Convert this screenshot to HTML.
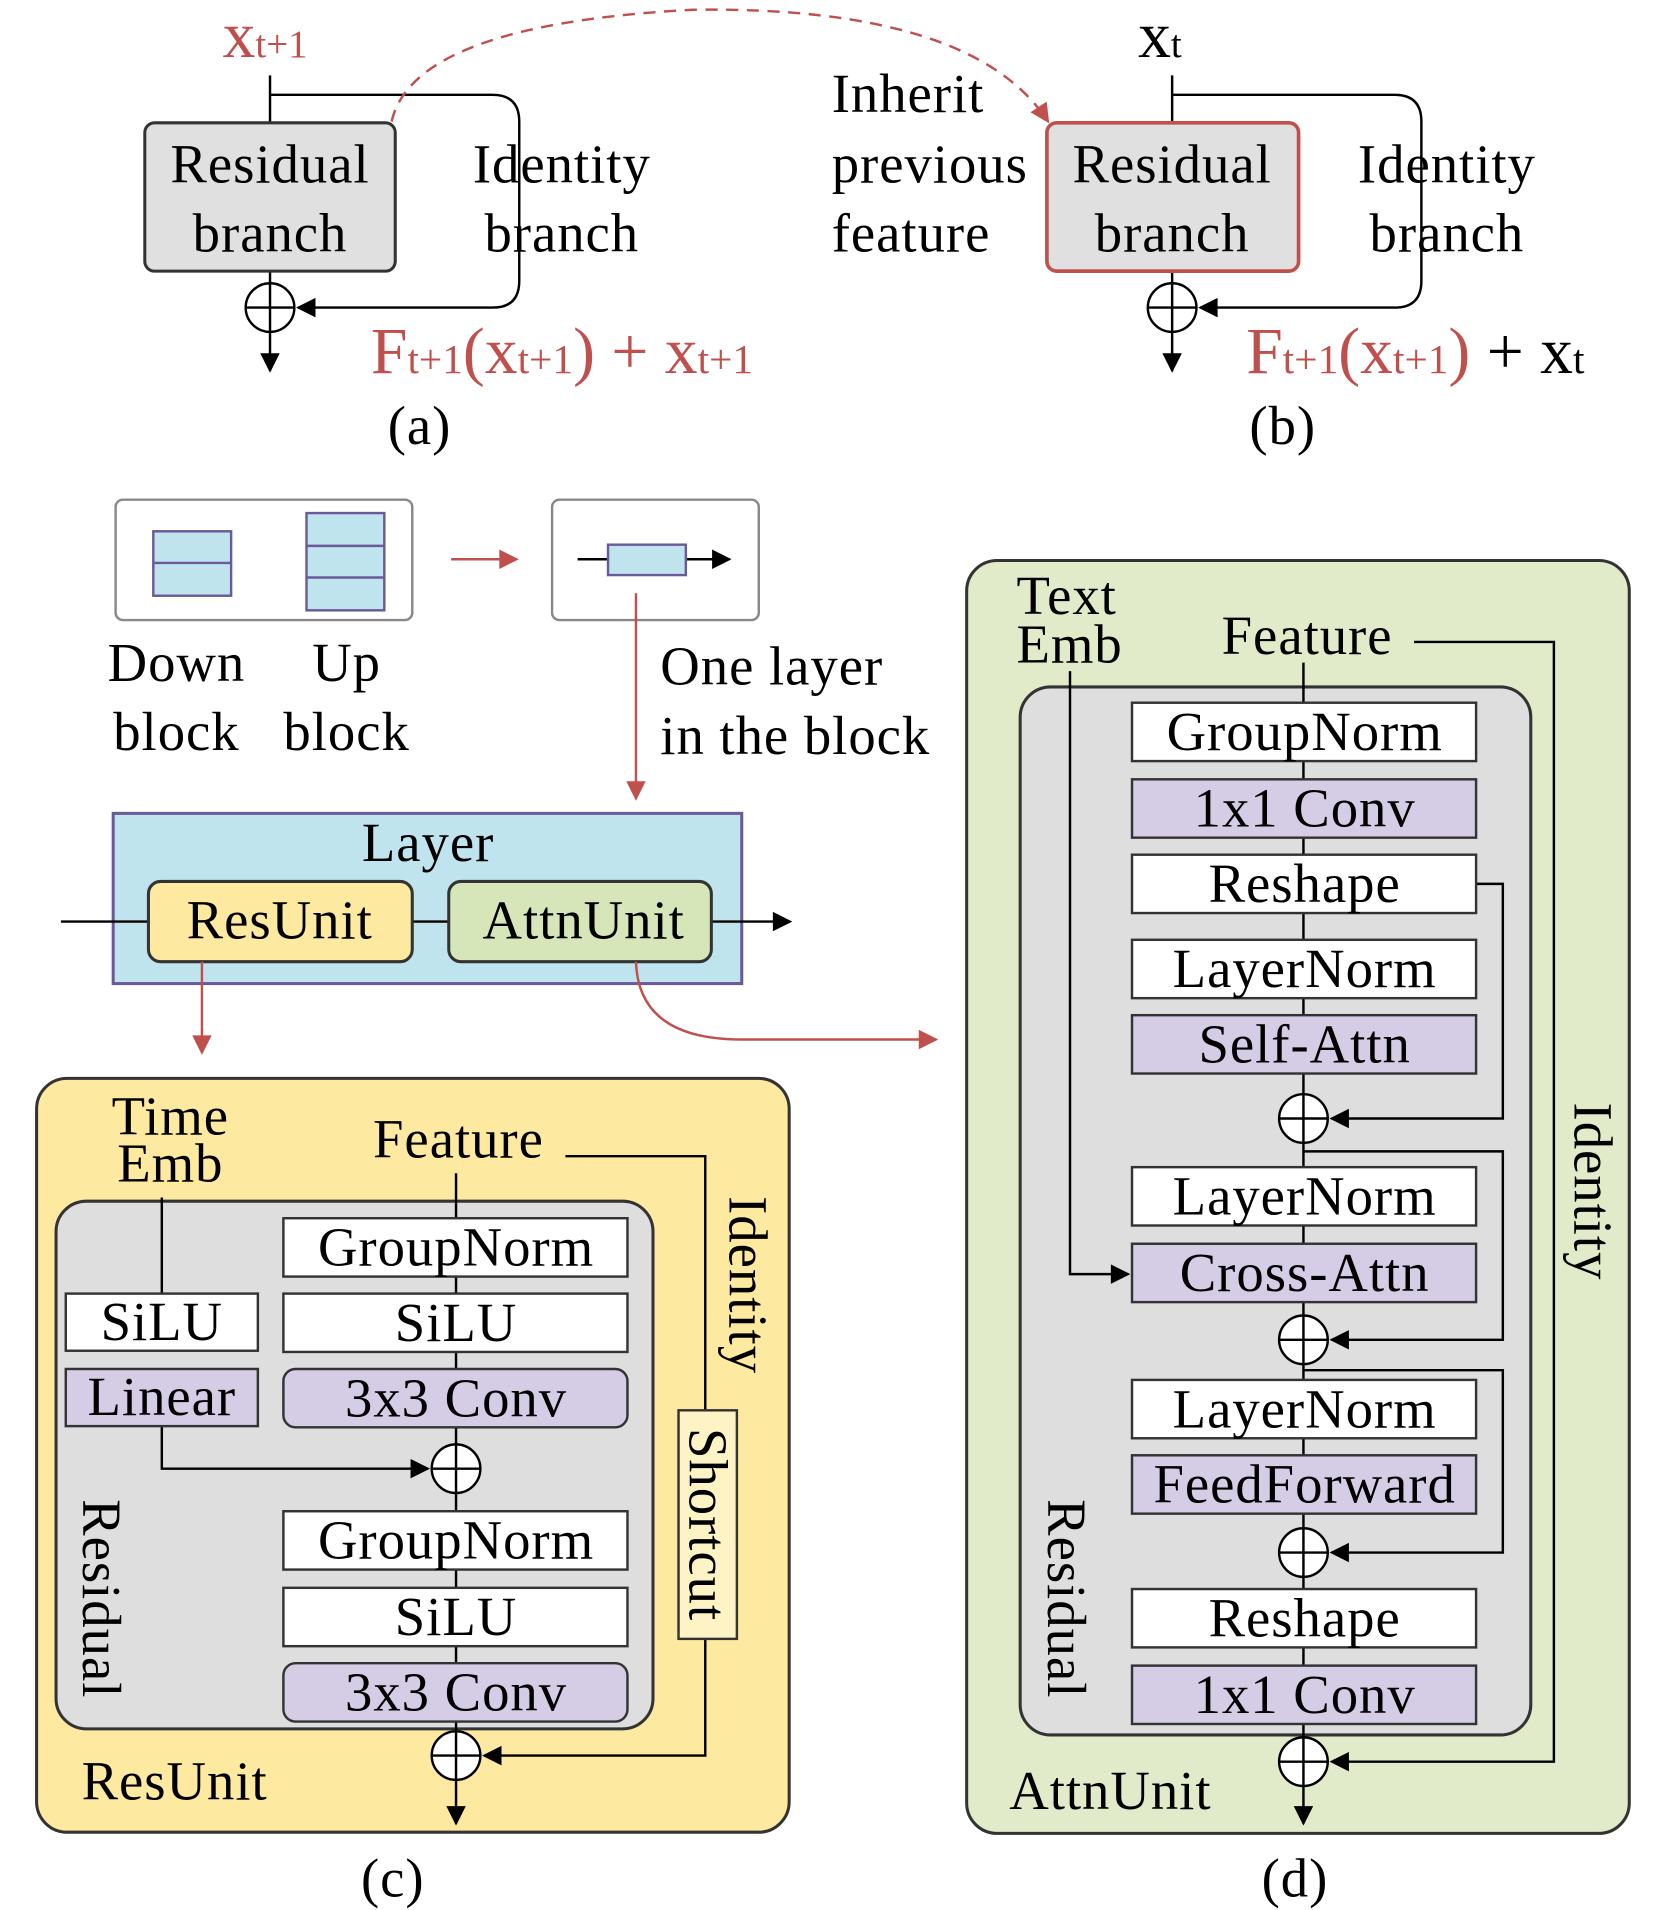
<!DOCTYPE html>
<html><head><meta charset="utf-8"><style>html,body{margin:0;padding:0;background:#fff}svg{display:block}</style></head><body>
<svg width="1661" height="1910" viewBox="0 0 1366 1571" xmlns="http://www.w3.org/2000/svg" font-family="Liberation Serif, serif" font-size="45" letter-spacing="0.8">
<defs>
<marker id="ak" viewBox="0 0 10 10" refX="9" refY="5" markerWidth="24" markerHeight="16" orient="auto" markerUnits="userSpaceOnUse"><path d="M0,0L10,5L0,10z" fill="#000"/></marker>
<marker id="ar" viewBox="0 0 10 10" refX="9" refY="5" markerWidth="24" markerHeight="16" orient="auto" markerUnits="userSpaceOnUse"><path d="M0,0L10,5L0,10z" fill="#c0504d"/></marker>
</defs>
<g stroke="#000" stroke-width="2" fill="none">
<path d="M222,62V101M222,78H405Q427,78 427,100V231Q427,253 405,253H245" marker-end="url(#ak)"/>
<path d="M222,223V233M222,273V305" marker-end="url(#ak)"/>
<circle cx="222" cy="253" r="20"/><path d="M202,253H242M222,233V273"/>
<path d="M964,62V101M964,78H1147Q1169,78 1169,100V231Q1169,253 1147,253H987" marker-end="url(#ak)"/>
<path d="M964,223V233M964,273V305" marker-end="url(#ak)"/>
<circle cx="964" cy="253" r="20"/><path d="M944,253H984M964,233V273"/>
</g>
<path d="M322,100Q340,20 570,8Q800,5 862,100" stroke="#c0504d" stroke-width="2" fill="none" stroke-dasharray="10,7" marker-end="url(#ar)"/>
<rect x="119" y="101" width="206" height="122" rx="8" fill="#e0e0e0" stroke="#333" stroke-width="2.5"/>
<rect x="861" y="101" width="207" height="122" rx="8" fill="#e0e0e0" stroke="#c0504d" stroke-width="3"/>
<g text-anchor="middle">
<text x="222" y="150">Residual</text><text x="222" y="207">branch</text>
<text x="964" y="150">Residual</text><text x="964" y="207">branch</text>
<text x="462" y="150">Identity</text><text x="462" y="207">branch</text>
<text x="1190" y="150">Identity</text><text x="1190" y="207">branch</text>
<text x="345" y="365">(a)</text><text x="1055" y="365">(b)</text>
</g>
<text x="684" y="92">Inherit</text><text x="684" y="150">previous</text><text x="684" y="207">feature</text>
<text x="183" y="47" fill="#c0504d" font-size="54" letter-spacing="0">x<tspan font-size="32">t+1</tspan></text>
<text x="936" y="47" font-size="54" letter-spacing="0">x<tspan font-size="32">t</tspan></text>
<text x="305" y="307" fill="#c0504d" font-size="54" letter-spacing="0">F<tspan font-size="34">t+1</tspan>(x<tspan font-size="34">t+1</tspan>) + x<tspan font-size="34">t+1</tspan></text>
<text x="1025" y="307" fill="#c0504d" font-size="54" letter-spacing="0">F<tspan font-size="34">t+1</tspan>(x<tspan font-size="34">t+1</tspan>)<tspan fill="#000"> + x</tspan><tspan fill="#000" font-size="34">t</tspan></text>

<rect x="95" y="411" width="244" height="99" rx="6" fill="#fff" stroke="#888" stroke-width="2"/>
<rect x="126" y="437" width="64" height="53" fill="#bfe4ee" stroke="#6a5a9a" stroke-width="2"/><path d="M126,463H190" stroke="#6a5a9a" stroke-width="2"/>
<rect x="252" y="422" width="64" height="80" fill="#bfe4ee" stroke="#6a5a9a" stroke-width="2"/><path d="M252,449H316M252,475H316" stroke="#6a5a9a" stroke-width="2"/>
<rect x="454" y="411" width="170" height="99" rx="6" fill="#fff" stroke="#888" stroke-width="2"/>
<path d="M475,460H600" stroke="#000" stroke-width="2" marker-end="url(#ak)"/>
<rect x="500" y="448" width="64" height="25" fill="#bfe4ee" stroke="#6a5a9a" stroke-width="2"/>
<path d="M371,460H425" stroke="#c0504d" stroke-width="2" marker-end="url(#ar)"/>
<path d="M523,488V657" stroke="#c0504d" stroke-width="2" marker-end="url(#ar)"/>
<g text-anchor="middle"><text x="145" y="560">Down</text><text x="145" y="617">block</text><text x="285" y="560">Up</text><text x="285" y="617">block</text></g>
<text x="543" y="563">One layer</text><text x="543" y="620">in the block</text>
<rect x="93" y="669" width="517" height="140" fill="#bfe4ee" stroke="#6a5a9a" stroke-width="2.5"/>
<text x="352" y="708" text-anchor="middle">Layer</text>
<path d="M50,758H122M339,758H369M585,758H650" stroke="#000" stroke-width="2" marker-end="url(#ak)"/>
<rect x="122" y="725" width="217" height="66" rx="10" fill="#fde9a0" stroke="#333" stroke-width="2.5"/>
<rect x="369" y="725" width="216" height="66" rx="10" fill="#d6e6b8" stroke="#333" stroke-width="2.5"/>
<text x="230" y="772" text-anchor="middle">ResUnit</text><text x="480" y="772" text-anchor="middle">AttnUnit</text>
<path d="M166,791V866" stroke="#c0504d" stroke-width="2" marker-end="url(#ar)"/>
<path d="M523,791Q525,855 610,855H770" stroke="#c0504d" stroke-width="2" fill="none" marker-end="url(#ar)"/>

<rect x="30" y="887" width="619" height="620" rx="25" fill="#fde9a0" stroke="#333" stroke-width="2.5"/>
<rect x="46" y="988" width="491" height="434" rx="25" fill="#dedede" stroke="#333" stroke-width="2.5"/>
<g stroke="#000" stroke-width="2" fill="none">
<path d="M465,951H580V1160"/>
<path d="M580,1348V1444H398" marker-end="url(#ak)"/>
<path d="M375,965V1424"/>
<path d="M133,985V1064"/>
<path d="M133,1173V1208H352" marker-end="url(#ak)"/>
<path d="M375,1464V1500" marker-end="url(#ak)"/>
</g>
<g stroke="#333" stroke-width="2">
<rect x="233" y="1002" width="283" height="48" fill="#fff"/>
<rect x="233" y="1064" width="283" height="48" fill="#fff"/>
<rect x="233" y="1126" width="283" height="48" rx="10" fill="#d5cce6"/>
<rect x="233" y="1243" width="283" height="48" fill="#fff"/>
<rect x="233" y="1306" width="283" height="48" fill="#fff"/>
<rect x="233" y="1368" width="283" height="48" rx="10" fill="#d5cce6"/>
<rect x="54" y="1064" width="158" height="47" fill="#fff"/>
<rect x="54" y="1126" width="158" height="47" fill="#d5cce6"/>
<rect x="558" y="1160" width="48" height="188" fill="#fdf3c4"/>
</g>
<g stroke="#000" stroke-width="2" fill="#fff"><circle cx="375" cy="1208" r="20"/><circle cx="375" cy="1444" r="20"/></g>
<path d="M355,1208H395M375,1188V1228M355,1444H395M375,1424V1464" stroke="#000" stroke-width="2"/>
<g text-anchor="middle">
<text x="140" y="933">Time</text><text x="140" y="972">Emb</text>
<text x="377" y="952">Feature</text>
<text x="375" y="1041">GroupNorm</text><text x="375" y="1103">SiLU</text><text x="375" y="1165">3x3 Conv</text>
<text x="375" y="1282">GroupNorm</text><text x="375" y="1345">SiLU</text><text x="375" y="1407">3x3 Conv</text>
<text x="133" y="1102">SiLU</text><text x="133" y="1164">Linear</text>
<text transform="translate(567,1254) rotate(90)">Shortcut</text>
<text transform="translate(600,1057) rotate(90)">Identity</text>
<text transform="translate(68,1315) rotate(90)">Residual</text>
<text x="323" y="1560">(c)</text>
</g>
<text x="67" y="1480">ResUnit</text>

<rect x="795" y="461" width="545" height="1047" rx="25" fill="#e1eac9" stroke="#333" stroke-width="2.5"/>
<rect x="839" y="565" width="420" height="862" rx="25" fill="#dedede" stroke="#333" stroke-width="2.5"/>
<g stroke="#000" stroke-width="2" fill="none">
<path d="M1163,528H1278V1449H1095" marker-end="url(#ak)"/>
<path d="M1072,545V1429"/>
<path d="M880,552V1048H928" marker-end="url(#ak)"/>
<path d="M1214,727H1236V920H1095" marker-end="url(#ak)"/>
<path d="M1072,947H1236V1102H1095" marker-end="url(#ak)"/>
<path d="M1072,1127H1236V1277H1095" marker-end="url(#ak)"/>
<path d="M1072,1469V1500" marker-end="url(#ak)"/>
</g>
<g stroke="#333" stroke-width="2">
<rect x="931" y="578" width="283" height="48" fill="#fff"/>
<rect x="931" y="641" width="283" height="48" fill="#d5cce6"/>
<rect x="931" y="703" width="283" height="48" fill="#fff"/>
<rect x="931" y="773" width="283" height="48" fill="#fff"/>
<rect x="931" y="835" width="283" height="48" fill="#d5cce6"/>
<rect x="931" y="960" width="283" height="48" fill="#fff"/>
<rect x="931" y="1023" width="283" height="48" fill="#d5cce6"/>
<rect x="931" y="1135" width="283" height="48" fill="#fff"/>
<rect x="931" y="1197" width="283" height="48" fill="#d5cce6"/>
<rect x="931" y="1307" width="283" height="48" fill="#fff"/>
<rect x="931" y="1370" width="283" height="48" fill="#d5cce6"/>
</g>
<g stroke="#000" stroke-width="2" fill="#fff">
<circle cx="1072" cy="920" r="20"/><circle cx="1072" cy="1102" r="20"/><circle cx="1072" cy="1277" r="20"/><circle cx="1072" cy="1449" r="20"/>
</g>
<path d="M1052,920H1092M1072,900V940M1052,1102H1092M1072,1082V1122M1052,1277H1092M1072,1257V1297M1052,1449H1092M1072,1429V1469" stroke="#000" stroke-width="2"/>
<g text-anchor="middle">
<text x="1073" y="617">GroupNorm</text><text x="1073" y="680">1x1 Conv</text><text x="1073" y="742">Reshape</text>
<text x="1073" y="812">LayerNorm</text><text x="1073" y="874">Self-Attn</text>
<text x="1073" y="999">LayerNorm</text><text x="1073" y="1062">Cross-Attn</text>
<text x="1073" y="1174">LayerNorm</text><text x="1073" y="1236">FeedForward</text>
<text x="1073" y="1346">Reshape</text><text x="1073" y="1409">1x1 Conv</text>
<text x="1075" y="538">Feature</text>
<text transform="translate(1295,980) rotate(90)">Identity</text>
<text transform="translate(862,1315) rotate(90)">Residual</text>
<text x="1065" y="1560">(d)</text>
</g>
<text x="836" y="505">Text</text><text x="836" y="545">Emb</text>
<text x="830" y="1488">AttnUnit</text>
</svg>
</body></html>
